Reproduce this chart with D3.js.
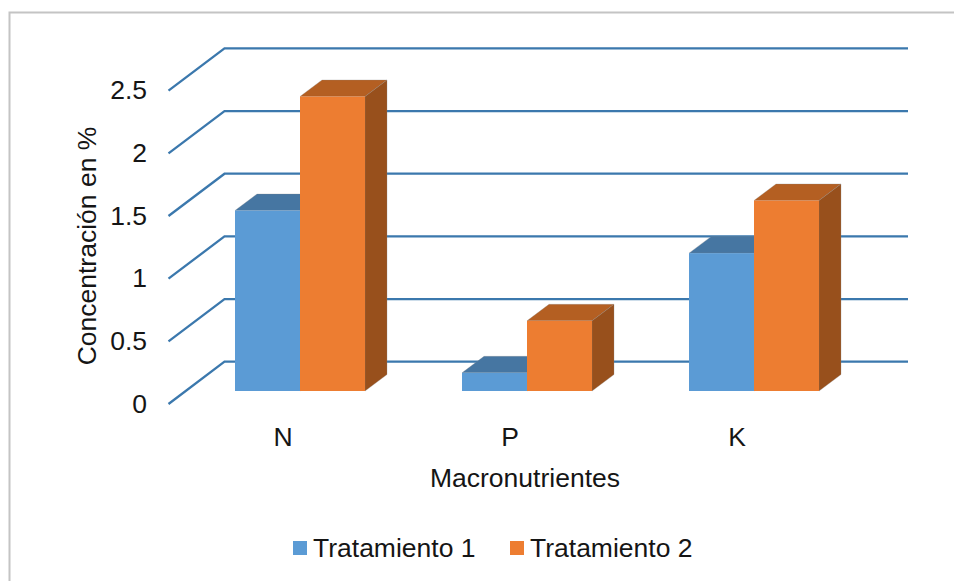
<!DOCTYPE html>
<html><head><meta charset="utf-8">
<script src="https://cdn.jsdelivr.net/npm/d3@7"></script>
<style>html,body{margin:0;background:#fff}svg{display:block}text{font-family:"Liberation Sans",Arial,sans-serif;fill:#151515}</style>
</head><body><svg id="c" width="954" height="581"></svg>
<script>
const categories = ["N","P","K"];
const seriesNames = ["Tratamiento 1","Tratamiento 2"];
const tratamiento1 = [1.44,0.145,1.10];
const tratamiento2 = [2.35,0.56,1.52];
const ticks = [0,0.5,1,1.5,2,2.5];
const tickLabels = ["0","0.5","1","1.5","2","2.5"];
const colors = [{front:"#5b9bd5",top:"#4676a2",side:"#3f6a92"},{front:"#ed7d31",top:"#b45f22",side:"#98501c"}];

const svg = d3.select("#c");
const y = d3.scaleLinear().domain([0,2.5]).range([404,90.7]);
const unit = y(0)-y(1);
const depth = {dx:56,dy:-42.3};
const barDepth = {dx:22,dy:-16.5};
const floorY = 391;
const barW = 65;
const starts = {N:235,P:462,K:689};

svg.append("path").attr("d","M9.5,600V12.5H960").attr("fill","none").attr("stroke","#c4c4c4").attr("stroke-width",2);

const grid = svg.append("g").attr("fill","none").attr("stroke","#3b78ad").attr("stroke-width",2.3);
ticks.forEach(t=>{
  const py=y(t);
  grid.append("path").attr("d",`M168.5,${py}L${168.5+depth.dx},${py+depth.dy}H908`);
});

const yH = v=>floorY-v*unit;
categories.forEach((c,i)=>{
  [tratamiento1[i],tratamiento2[i]].forEach((v,s)=>{
    const x=starts[c]+s*barW, t=yH(v), col=colors[s];
    const g=svg.append("g").attr("stroke-width",0.8).attr("stroke-opacity",0.35).attr("stroke","#888");
    g.append("path").attr("fill",col.top).attr("d",`M${x},${t}l${barDepth.dx},${barDepth.dy}h${barW}l${-barDepth.dx},${-barDepth.dy}z`);
    g.append("path").attr("fill",col.side).attr("d",`M${x+barW},${t}l${barDepth.dx},${barDepth.dy}V${floorY+barDepth.dy}l${-barDepth.dx},${-barDepth.dy}z`);
    g.append("rect").attr("x",x).attr("y",t).attr("width",barW).attr("height",floorY-t).attr("fill",col.front).attr("stroke","none");
  });
});

const fs=26.5;
svg.append("g").selectAll("text").data(tickLabels).join("text")
  .attr("x",147).attr("y",(d,i)=>y(ticks[i])+8.5).attr("text-anchor","end").attr("font-size",fs).text(d=>d);
const catLabelX={N:283,P:510,K:737};
svg.append("g").selectAll("text").data(categories).join("text")
  .attr("x",d=>catLabelX[d]).attr("y",446).attr("text-anchor","middle").attr("font-size",fs).text(d=>d);
svg.append("text").attr("x",525).attr("y",487).attr("text-anchor","middle").attr("font-size",fs).text("Macronutrientes");
svg.append("text").attr("transform","translate(96,246) rotate(-90)").attr("text-anchor","middle").attr("font-size",fs).text("Concentración en %");

const lx=[293,510];
seriesNames.forEach((n,i)=>{
  svg.append("rect").attr("x",lx[i]).attr("y",541).attr("width",14).attr("height",14).attr("fill",colors[i].front);
  svg.append("text").attr("x",lx[i]+20).attr("y",557).attr("font-size",fs).text(n);
});
</script></body></html>
